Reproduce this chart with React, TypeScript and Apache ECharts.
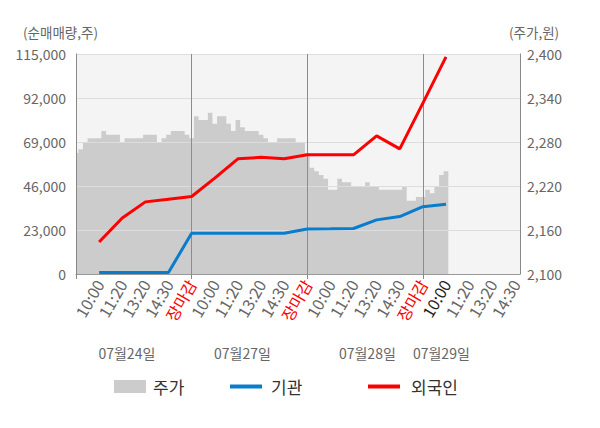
import React, { useEffect, useRef } from "react";
import * as echarts from "echarts";

// ---- data ----
const slotTimes = ["10:00", "11:20", "13:20", "14:30", "장마감"];
const dayNames = ["07월24일", "07월27일", "07월28일", "07월29일"];
const seriesNames = ["주가", "기관", "외국인"];

// price (주가, 원) sampled 5 times per label slot, index 0 = left edge
const priceDay1 = [2265, 2270, 2280, 2285, 2285, 2285, 2295, 2290, 2290, 2290, 2280, 2285, 2285, 2285, 2285, 2290, 2290, 2290, 2280, 2285, 2290, 2295, 2295, 2295, 2290];
const priceDay2 = [2285, 2315, 2310, 2310, 2320, 2305, 2315, 2315, 2305, 2295, 2310, 2300, 2295, 2295, 2295, 2290, 2285, 2280, 2280, 2285, 2285, 2285, 2285, 2280, 2280];
const priceDay3 = [2265, 2245, 2240, 2235, 2230, 2215, 2215, 2230, 2225, 2225, 2220, 2220, 2220, 2225, 2220, 2220, 2215, 2215, 2215, 2215, 2215, 2220, 2200, 2200, 2205];
const priceDay4 = [2205, 2215, 2210, 2220, 2235, 2240];

// net buying volume (순매매량, 주) at label slots 1..16
const institution = [800, 800, 800, 800, 21300, 21300, 21300, 21300, 21300, 23500, 23600, 23800, 28300, 30000, 35200, 36500];
const foreign = [16700, 29300, 37700, 39100, 40500, 50100, 60200, 61000, 60200, 62300, 62300, 62300, 72200, 65400, 89300, 113500];

// tick values
const volTicks = { min: 0, max: 115000, interval: 23000 };
const priceTicks = { min: 2100, max: 2400, interval: 60 };

// ---- layout constants ----
const SUB = 5; // samples per label slot
const CAT_COUNT = 97; // axis spans 19.2 slots
const LAST_SLOT = 16;
const dayLabelAt = [11, 36, 63, 79];
const FONT = "'Noto Sans CJK KR', 'Noto Sans', sans-serif";
const XFS = 16;

function buildOption() {
  const categories = Array.from({ length: CAT_COUNT }, (_, i) => String(i));
  const price = [...priceDay1, ...priceDay2, ...priceDay3, ...priceDay4];
  const priceData = categories.map((_, i) => (i < price.length ? price[i] : null));
  const toCat = (arr: number[]) =>
    categories.map((_, i) => {
      if (i % SUB !== 0 || i === 0) return null;
      const k = i / SUB;
      return k <= arr.length ? arr[k - 1] : null;
    });
  const comma = (v: number) => Number(v).toLocaleString("en-US");

  const legendBase = {
    top: 378,
    padding: 0,
    icon: "rect",
    itemWidth: 32,
    selectedMode: false,
  };

  return {
    animation: false,
    textStyle: { fontFamily: FONT },
    grid: {
      left: 76,
      right: 80,
      top: 54,
      bottom: 154,
      show: true,
      backgroundColor: "#f4f4f4",
      borderWidth: 0,
    },
    legend: [
      {
        ...legendBase,
        data: [seriesNames[0]],
        left: 114,
        itemHeight: 13,
        textStyle: { fontSize: 17, color: "#333", fontFamily: FONT, padding: [0, 0, 0, 2] },
      },
      {
        ...legendBase,
        data: [seriesNames[1]],
        left: 230,
        itemHeight: 4,
        textStyle: { fontSize: 17, color: "#333", fontFamily: FONT, padding: [0, 0, 0, 4] },
      },
      {
        ...legendBase,
        data: [seriesNames[2]],
        left: 368,
        itemHeight: 4,
        textStyle: { fontSize: 17, color: "#333", fontFamily: FONT, padding: [0, 0, 0, 6] },
      },
    ],
    graphic: [
      {
        type: "text",
        left: 23,
        top: 25,
        style: { text: "(순매매량,주)", fontSize: 13.5, fill: "#666", fontFamily: FONT },
      },
      {
        type: "text",
        left: 509,
        top: 25,
        style: { text: "(주가,원)", fontSize: 13.5, fill: "#666", fontFamily: FONT },
      },
    ],
    xAxis: [
      {
        type: "category",
        data: categories,
        boundaryGap: false,
        z: 2,
        axisLine: { show: true, lineStyle: { color: "#999" } },
        axisTick: {
          show: true,
          length: 5,
          interval: (i: number) => i % (SUB * 5) === 0,
          lineStyle: { color: "#888" },
        },
        splitLine: {
          show: true,
          interval: (i: number) => i > 0 && i % (SUB * 5) === 0 && i < CAT_COUNT - 1,
          lineStyle: { color: "#8c8c8c", width: 1 },
        },
        axisLabel: {
          interval: (i: number) => i > 0 && i % SUB === 0 && i < CAT_COUNT - 1,
          rotate: 60,
          margin: 7,
          fontSize: XFS,
          color: "#666",
          fontFamily: FONT,
          formatter: (_v: string, i: number) => {
            const k = Math.round(i / SUB);
            const t = slotTimes[(k - 1) % 5];
            if (t === "장마감") return `{close|${t}}`;
            if (k === LAST_SLOT) return `{now|${t}}`;
            return t;
          },
          rich: {
            close: { color: "#ff0000", fontSize: XFS, fontFamily: FONT },
            now: { color: "#222", fontSize: XFS, fontFamily: FONT },
          },
        },
      },
      {
        type: "category",
        data: categories,
        boundaryGap: false,
        position: "bottom",
        offset: 64,
        axisLine: { show: false },
        axisTick: { show: false },
        splitLine: { show: false },
        axisLabel: {
          interval: (i: number) => dayLabelAt.includes(i),
          margin: 8,
          fontSize: 14,
          color: "#666",
          fontFamily: FONT,
          formatter: (_v: string, i: number) => dayNames[dayLabelAt.indexOf(i)] || "",
        },
      },
    ],
    yAxis: [
      {
        type: "value",
        position: "left",
        min: volTicks.min,
        max: volTicks.max,
        interval: volTicks.interval,
        z: 2,
        axisLine: { show: true, lineStyle: { color: "#888" } },
        axisTick: { show: false },
        splitLine: { show: true, lineStyle: { color: "#dddddd" } },
        axisLabel: { color: "#666", fontSize: 14, margin: 10, fontFamily: FONT, formatter: comma },
      },
      {
        type: "value",
        position: "right",
        min: priceTicks.min,
        max: priceTicks.max,
        interval: priceTicks.interval,
        z: 2,
        axisLine: { show: true, lineStyle: { color: "#888" } },
        axisTick: { show: false },
        splitLine: { show: false },
        axisLabel: { color: "#666", fontSize: 14, margin: 7, fontFamily: FONT, formatter: comma },
      },
    ],
    series: [
      {
        name: seriesNames[0],
        type: "line",
        xAxisIndex: 0,
        yAxisIndex: 1,
        data: priceData,
        step: "middle",
        symbol: "none",
        z: 1,
        color: "#cccccc",
        lineStyle: { width: 0, color: "#cccccc" },
        areaStyle: { color: "#cccccc", opacity: 1 },
      },
      {
        name: seriesNames[1],
        type: "line",
        xAxisIndex: 0,
        yAxisIndex: 0,
        data: toCat(institution),
        connectNulls: true,
        symbol: "none",
        z: 3,
        color: "#0a7ccd",
        lineStyle: { width: 3, color: "#0a7ccd" },
      },
      {
        name: seriesNames[2],
        type: "line",
        xAxisIndex: 0,
        yAxisIndex: 0,
        data: toCat(foreign),
        connectNulls: true,
        symbol: "none",
        z: 3,
        color: "#ff0000",
        lineStyle: { width: 3, color: "#ff0000" },
      },
    ],
  };
}

export default function App() {
  const ref = useRef<HTMLDivElement>(null);
  useEffect(() => {
    if (!ref.current) return;
    const chart = echarts.init(ref.current, undefined, { renderer: "svg" });
    chart.setOption(buildOption() as any);
    return () => chart.dispose();
  }, []);
  return (
    <div
      ref={ref}
      style={{ position: "fixed", left: 0, top: 0, width: 600, height: 428, background: "#fff" }}
    />
  );
}
